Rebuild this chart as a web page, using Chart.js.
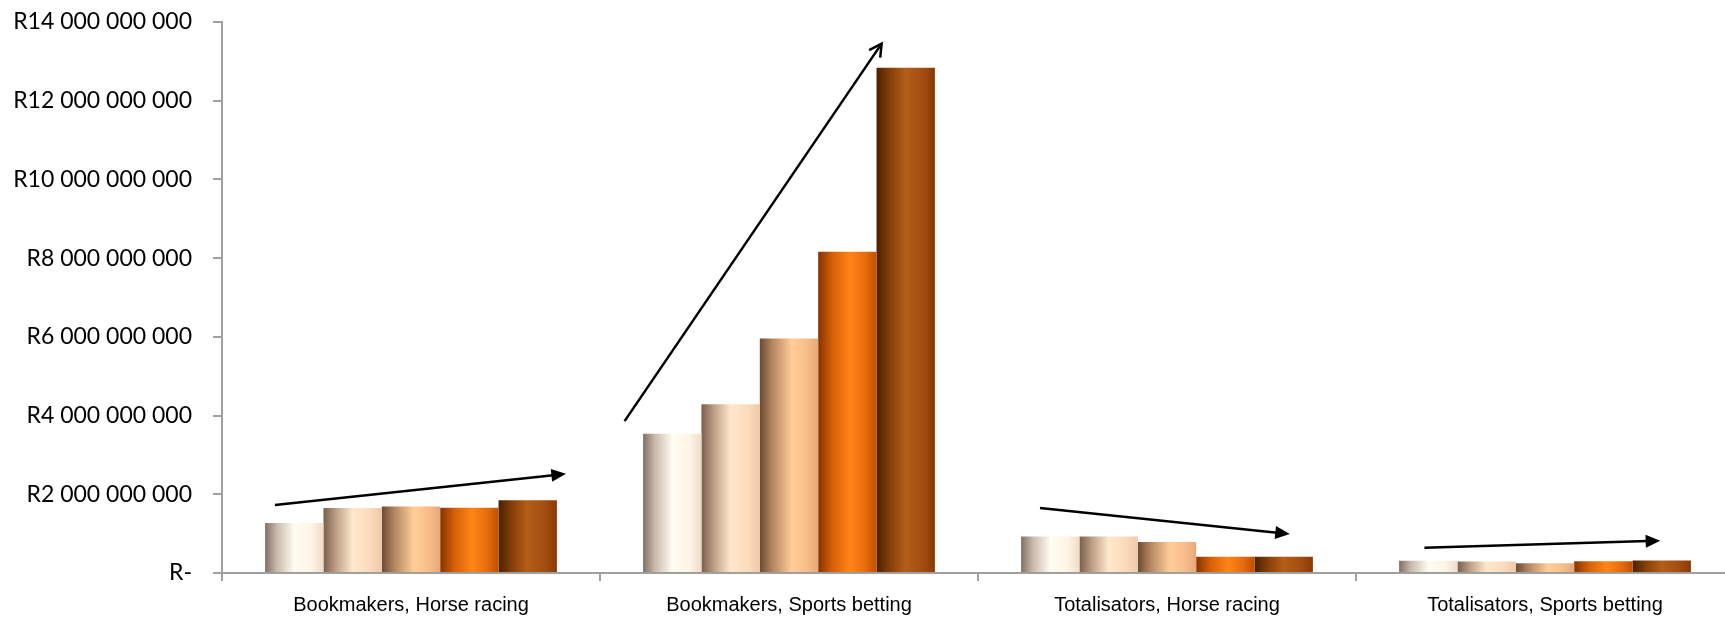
<!DOCTYPE html>
<html lang="en">
<head>
  <meta charset="UTF-8">
  <title>Betting turnover</title>
  <script src="https://cdn.jsdelivr.net/npm/chart.js"></script>
  <style>
    html, body { margin: 0; padding: 0; background: #fff; overflow: hidden; }
    #wrap { width: 1736px; height: 617px; }
  </style>
</head>
<body>
  <div id="wrap"><canvas id="chart" width="1736" height="617"></canvas></div>

  <script>
    const categories = ['Bookmakers, Horse racing', 'Bookmakers, Sports betting', 'Totalisators, Horse racing', 'Totalisators, Sports betting'];
    const seriesNames = ['Period 1', 'Period 2', 'Period 3', 'Period 4', 'Period 5'];
    const period1 = [1.27e9, 3.54e9, 0.93e9, 0.31e9];
    const period2 = [1.65e9, 4.29e9, 0.93e9, 0.29e9];
    const period3 = [1.69e9, 5.96e9, 0.79e9, 0.25e9];
    const period4 = [1.66e9, 8.16e9, 0.41e9, 0.30e9];
    const period5 = [1.85e9, 12.84e9, 0.41e9, 0.32e9];
    const yTicks = [0, 2e9, 4e9, 6e9, 8e9, 10e9, 12e9, 14e9];

    // trend arrows: [category position, value] start -> end
    const arrowStarts = [[-0.36, 1.73e9], [0.565, 3.86e9], [1.664, 1.65e9], [2.681, 0.64e9]];
    const arrowEnds   = [[0.41, 2.52e9], [1.245, 13.45e9], [2.325, 0.99e9], [3.305, 0.82e9]];

    const shades = [
      [[0, '#807065'], [0.2, '#c8b9ab'], [0.5, '#fffcf0'], [0.78, '#fff5e6'], [1, '#efdccb']],
      [[0, '#79604d'], [0.22, '#bfa088'], [0.5, '#ffe8cc'], [0.78, '#fbdcbc'], [1, '#efc9a8']],
      [[0, '#6c4b33'], [0.22, '#b58762'], [0.55, '#ffcd98'], [0.8, '#f8be8a'], [1, '#e6a878']],
      [[0, '#853400'], [0.25, '#d86008'], [0.55, '#ff8418'], [0.8, '#e86c0c'], [1, '#c05000']],
      [[0, '#4a2000'], [0.25, '#8a4208'], [0.5, '#b45e1a'], [0.8, '#a24c10'], [1, '#8a3a06']]
    ];

    function money(v) {
      if (v === 0) return 'R-';
      return 'R' + String(Math.round(v)).replace(/\B(?=(\d{3})+(?!\d))/g, ' ');
    }

    const barGradients = {
      id: 'barGradients',
      beforeDatasetsDraw(chart) {
        const ctx = chart.ctx;
        chart.data.datasets.forEach((ds, i) => {
          chart.getDatasetMeta(i).data.forEach(bar => {
            const l = bar.x - bar.width / 2;
            const g = ctx.createLinearGradient(l, 0, l + bar.width, 0);
            shades[i].forEach(s => g.addColorStop(s[0], s[1]));
            bar.options.backgroundColor = g;
          });
        });
      }
    };

    const arrows = {
      id: 'arrows',
      afterDatasetsDraw(chart) {
        const ctx = chart.ctx;
        const xs = chart.scales.x, ys = chart.scales.y;
        ctx.save();
        ctx.strokeStyle = '#000';
        ctx.fillStyle = '#000';
        ctx.lineWidth = 2.5;
        arrowStarts.forEach((s, i) => {
          const x1 = xs.getPixelForValue(s[0]), y1 = ys.getPixelForValue(s[1]);
          const x2 = xs.getPixelForValue(arrowEnds[i][0]), y2 = ys.getPixelForValue(arrowEnds[i][1]);
          const a = Math.atan2(y2 - y1, x2 - x1);
          const filled = i !== 1;
          const len = filled ? 16 : 14;
          ctx.beginPath();
          ctx.moveTo(x1, y1);
          ctx.lineTo(filled ? x2 - Math.cos(a) * len * 0.8 : x2, filled ? y2 - Math.sin(a) * len * 0.8 : y2);
          ctx.stroke();
          if (filled) {
            ctx.beginPath();
            ctx.moveTo(x2, y2);
            ctx.lineTo(x2 - len * Math.cos(a - 0.42), y2 - len * Math.sin(a - 0.42));
            ctx.lineTo(x2 - len * Math.cos(a + 0.42), y2 - len * Math.sin(a + 0.42));
            ctx.closePath();
            ctx.fill();
          } else {
            ctx.beginPath();
            ctx.moveTo(x2 - len * Math.cos(a - 0.5), y2 - len * Math.sin(a - 0.5));
            ctx.lineTo(x2, y2);
            ctx.lineTo(x2 - len * Math.cos(a + 0.5), y2 - len * Math.sin(a + 0.5));
            ctx.stroke();
          }
        });
        ctx.restore();
      }
    };

    const values = [period1, period2, period3, period4, period5];

    new Chart(document.getElementById('chart'), {
      type: 'bar',
      data: {
        labels: categories,
        datasets: values.map((d, i) => ({
          label: seriesNames[i],
          data: d,
          backgroundColor: () => shades[i][2][1],
          borderWidth: 0,
          categoryPercentage: 0.772,
          barPercentage: 1
        }))
      },
      plugins: [barGradients, arrows],
      options: {
        responsive: false,
        animation: false,
        layout: { padding: { top: 22, right: 2, left: 0, bottom: 0 } },
        plugins: {
          legend: { display: false },
          tooltip: { enabled: false }
        },
        scales: {
          x: {
            grid: { offset: true, drawOnChartArea: false, tickLength: 8, color: '#a0a0a0', lineWidth: 2 },
            border: { color: '#a0a0a0', width: 2 },
            ticks: { color: '#000', padding: 12, maxRotation: 0, font: { family: '"Liberation Sans Narrow", "Liberation Sans", sans-serif', size: 20 } },
            afterFit(s) { s.height = 44; }
          },
          y: {
            min: 0,
            max: 14e9,
            afterBuildTicks(s) { s.ticks = yTicks.map(v => ({ value: v })); },
            // long tick slot gives the label gap; dash keeps only the 9px mark next to the axis
            grid: { drawOnChartArea: false, tickLength: 30, tickBorderDash: [0, 21, 9, 100], color: '#a0a0a0', lineWidth: 2 },
            border: { color: '#a0a0a0', width: 2 },
            ticks: { color: '#000', padding: 0, callback: v => money(v), font: { family: 'Lato, "Open Sans", sans-serif', size: 23 } },
            afterFit(s) { s.width = 222; }
          }
        }
      }
    });
  </script>
</body>
</html>
